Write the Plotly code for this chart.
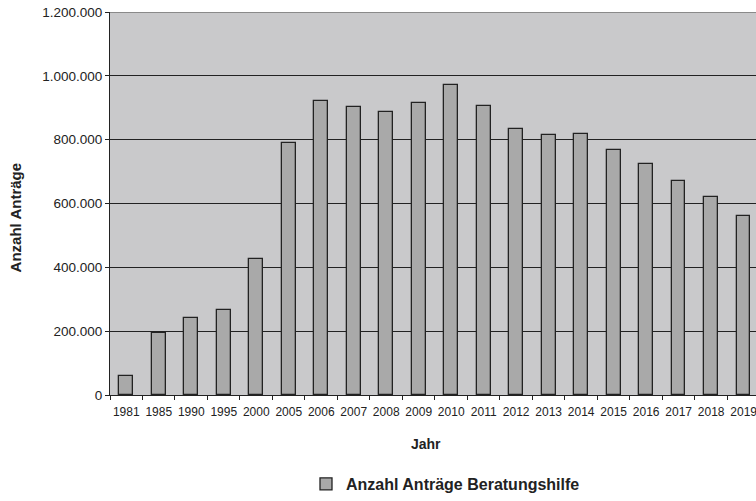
import plotly.graph_objects as go

# Jahre und Anzahl der Anträge auf Beratungshilfe
jahre = ["1981", "1985", "1990", "1995", "2000", "2005", "2006", "2007", "2008", "2009",
         "2010", "2011", "2012", "2013", "2014", "2015", "2016", "2017", "2018", "2019"]
antraege = [60000, 193000, 240000, 267000, 425000, 790000, 922000, 903000, 887000, 914000,
            970000, 904000, 835000, 815000, 818000, 768000, 723000, 672000, 621000, 561000]
y_ticks = [0, 200000, 400000, 600000, 800000, 1000000, 1200000]

FONT = "Arial, Liberation Sans, sans-serif"

fig = go.Figure()
fig.add_trace(go.Bar(
    x=jahre,
    y=antraege,
    name="Anzahl Anträge Beratungshilfe",
    width=0.42,
    marker=dict(color="#a9a9a9", line=dict(color="#222222", width=1.3)),
    showlegend=True,
))

fig.update_layout(
    width=756,
    height=501,
    margin=dict(l=110, r=0, t=12, b=103),
    paper_bgcolor="white",
    plot_bgcolor="#c9c9cb",
    separators=",.",
    font=dict(family=FONT, color="#222222"),
    bargap=0,
    legend=dict(
        orientation="h",
        x=(306 - 110) / 646, xanchor="left",
        y=-(488 - 398) / 386, yanchor="middle",
        font=dict(size=16, family=FONT, color="#222222", weight="bold"),
        itemwidth=30,
        bgcolor="rgba(0,0,0,0)",
    ),
    xaxis=dict(
        type="category",
        range=[-0.5, 19.38],
        tickson="boundaries",
        ticks="outside",
        ticklen=4,
        tickcolor="#222222",
        tickangle=0,
        ticklabelstandoff=6,
        showline=True,
        linecolor="#222222",
        linewidth=1,
        showgrid=False,
        tickfont=dict(size=12, family=FONT, color="#222222"),
    ),
    yaxis=dict(
        range=[0, 1200000],
        tickvals=y_ticks,
        tickformat=",d",
        ticks="outside",
        ticklen=4,
        tickcolor="#222222",
        showline=True,
        linecolor="#222222",
        linewidth=1,
        showgrid=True,
        gridcolor="#222222",
        gridwidth=1,
        zeroline=False,
        tickfont=dict(size=13.5, family=FONT, color="#222222"),
    ),
    annotations=[
        dict(text="<b>Anzahl Anträge</b>", xref="paper", yref="paper",
             x=(15 - 110) / 646, y=(398 - 220) / 386, textangle=-90,
             showarrow=False, xanchor="center", yanchor="middle",
             font=dict(size=15, family=FONT, color="#222222")),
        dict(text="<b>Jahr</b>", xref="paper", yref="paper",
             x=(426 - 110) / 646, y=-(447 - 398) / 386,
             showarrow=False, xanchor="center", yanchor="middle",
             font=dict(size=14, family=FONT, color="#222222")),
    ],
    shapes=[
        # obere Rahmenlinie des Diagrammbereichs
        dict(type="line", xref="paper", yref="y", x0=0, x1=1, y0=1200000, y1=1200000,
             line=dict(color="#8a8a8a", width=2)),
    ],
)

fig.write_html("out.html")
